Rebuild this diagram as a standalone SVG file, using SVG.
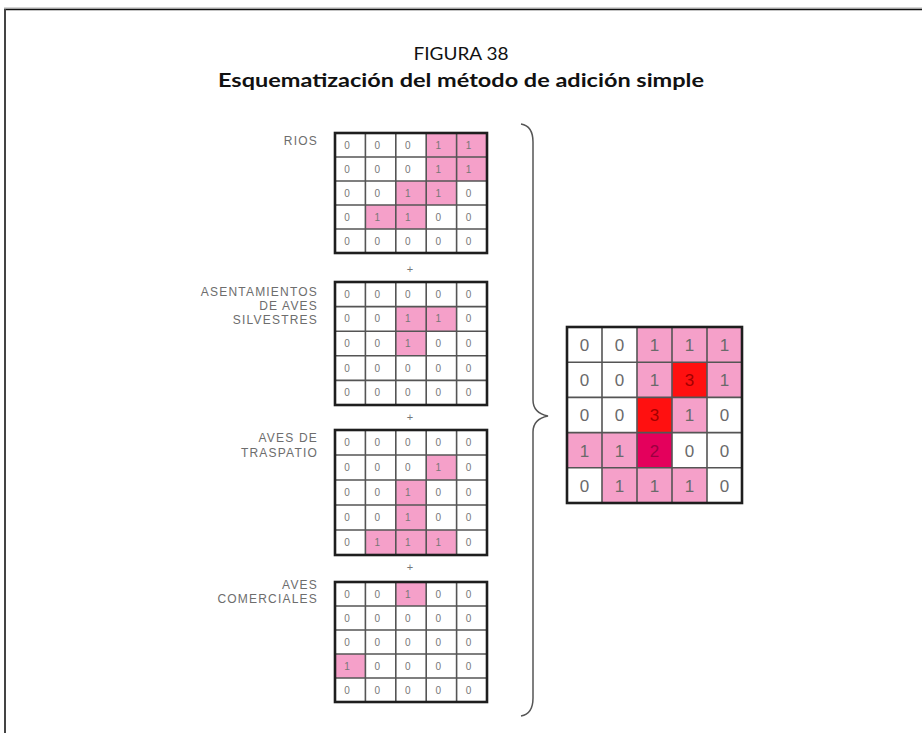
<svg xmlns="http://www.w3.org/2000/svg" width="922" height="733" viewBox="0 0 922 733">
<style>
.bg{fill:#fff}
.pk{fill:#f5a0c9}
.rd{fill:#ff1010}
.cr{fill:#e4005c}
.gl{fill:none;stroke:#555;stroke-width:1.6}
.bd{fill:none;stroke:#1e1e1e;stroke-width:2.6}
.sd{font-family:"Liberation Sans",Arial,sans-serif;font-size:10px;fill:#777;text-anchor:middle}
.bdg{font-family:"Liberation Sans",Arial,sans-serif;font-size:17px;fill:#6a6a6a;text-anchor:middle}
.lb{font-family:"Liberation Sans",Arial,sans-serif;font-size:12px;fill:#6d6d6d;text-anchor:end;letter-spacing:1.2px}
.pl{font-family:"Liberation Sans",Arial,sans-serif;font-size:11px;fill:#777;text-anchor:middle}
.t1{font-family:Lato,"Liberation Sans",sans-serif;font-size:17px;fill:#111;text-anchor:middle}
.t2{font-family:Lato,"Liberation Sans",sans-serif;font-size:18px;font-weight:bold;fill:#111;text-anchor:middle}
</style>
<rect class="bg" x="0" y="0" width="922" height="733"/>
<g id="frame">
<line x1="4" y1="8" x2="922" y2="8" stroke="#aaa" stroke-width="1"/>
<line x1="4" y1="9.5" x2="922" y2="9.5" stroke="#111" stroke-width="1.5"/>
<line x1="5" y1="9" x2="5" y2="733" stroke="#444" stroke-width="2"/>
</g>
<g id="title">
<text class="t1" x="461" y="60" textLength="95" lengthAdjust="spacingAndGlyphs">FIGURA 38</text>
<text class="t2" x="461" y="87" textLength="486" lengthAdjust="spacingAndGlyphs">Esquematización del método de adición simple</text>
</g>

<g id="grid-rios">
<text class="lb" x="318" y="145">RIOS</text>
<rect class="pk" x="426.2" y="133" width="60.8" height="48"/>
<rect class="pk" x="395.8" y="181" width="60.8" height="24"/>
<rect class="pk" x="365.4" y="205" width="60.8" height="24"/>
<path class="gl" d="M365.4 133V253M395.8 133V253M426.2 133V253M456.6 133V253M335 157H487M335 181H487M335 205H487M335 229H487"/>
<rect class="bd" x="335" y="133" width="152" height="120"/>
<text class="sd" x="347 377.4 407.8 438.2 468.6" y="148.5">00011</text>
<text class="sd" x="347 377.4 407.8 438.2 468.6" y="172.5">00011</text>
<text class="sd" x="347 377.4 407.8 438.2 468.6" y="196.5">00110</text>
<text class="sd" x="347 377.4 407.8 438.2 468.6" y="220.5">01100</text>
<text class="sd" x="347 377.4 407.8 438.2 468.6" y="244.5">00000</text>
</g>

<text class="pl" x="410" y="273">+</text>

<g id="grid-asentamientos">
<text class="lb" x="318" y="296">ASENTAMIENTOS</text>
<text class="lb" x="318" y="310">DE AVES</text>
<text class="lb" x="318" y="324">SILVESTRES</text>
<rect class="pk" x="395.8" y="306.6" width="60.8" height="24.6"/>
<rect class="pk" x="395.8" y="331.2" width="30.4" height="24.6"/>
<path class="gl" d="M365.4 282V405M395.8 282V405M426.2 282V405M456.6 282V405M335 306.6H487M335 331.2H487M335 355.8H487M335 380.4H487"/>
<rect class="bd" x="335" y="282" width="152" height="123"/>
<text class="sd" x="347 377.4 407.8 438.2 468.6" y="297.8">00000</text>
<text class="sd" x="347 377.4 407.8 438.2 468.6" y="322.4">00110</text>
<text class="sd" x="347 377.4 407.8 438.2 468.6" y="347">00100</text>
<text class="sd" x="347 377.4 407.8 438.2 468.6" y="371.6">00000</text>
<text class="sd" x="347 377.4 407.8 438.2 468.6" y="396.2">00000</text>
</g>

<text class="pl" x="410" y="421">+</text>

<g id="grid-traspatio">
<text class="lb" x="318" y="442">AVES DE</text>
<text class="lb" x="318" y="457">TRASPATIO</text>
<rect class="pk" x="426.2" y="455" width="30.4" height="25"/>
<rect class="pk" x="395.8" y="480" width="30.4" height="50"/>
<rect class="pk" x="365.4" y="530" width="91.2" height="25"/>
<path class="gl" d="M365.4 430V555M395.8 430V555M426.2 430V555M456.6 430V555M335 455H487M335 480H487M335 505H487M335 530H487"/>
<rect class="bd" x="335" y="430" width="152" height="125"/>
<text class="sd" x="347 377.4 407.8 438.2 468.6" y="446">00000</text>
<text class="sd" x="347 377.4 407.8 438.2 468.6" y="471">00010</text>
<text class="sd" x="347 377.4 407.8 438.2 468.6" y="496">00100</text>
<text class="sd" x="347 377.4 407.8 438.2 468.6" y="521">00100</text>
<text class="sd" x="347 377.4 407.8 438.2 468.6" y="546">01110</text>
</g>

<text class="pl" x="410" y="571">+</text>

<g id="grid-comerciales">
<text class="lb" x="318" y="589">AVES</text>
<text class="lb" x="318" y="603">COMERCIALES</text>
<rect class="pk" x="395.8" y="582" width="30.4" height="24"/>
<rect class="pk" x="335" y="654" width="30.4" height="24"/>
<path class="gl" d="M365.4 582V702M395.8 582V702M426.2 582V702M456.6 582V702M335 606H487M335 630H487M335 654H487M335 678H487"/>
<rect class="bd" x="335" y="582" width="152" height="120"/>
<text class="sd" x="347 377.4 407.8 438.2 468.6" y="597.5">00100</text>
<text class="sd" x="347 377.4 407.8 438.2 468.6" y="621.5">00000</text>
<text class="sd" x="347 377.4 407.8 438.2 468.6" y="645.5">00000</text>
<text class="sd" x="347 377.4 407.8 438.2 468.6" y="669.5">10000</text>
<text class="sd" x="347 377.4 407.8 438.2 468.6" y="693.5">00000</text>
</g>

<g id="connectors">
<path d="M521 124Q533 126 533 142V400Q533 413 548 416Q533 419 533 432V698Q533 714 521 716" fill="none" stroke="#555" stroke-width="1.5"/>
</g>

<g id="grid-result">
<rect class="pk" x="637" y="327" width="105" height="35.2"/>
<rect class="pk" x="637" y="362.2" width="35" height="35.2"/>
<rect class="rd" x="672" y="362.2" width="35" height="35.2"/>
<rect class="pk" x="707" y="362.2" width="35" height="35.2"/>
<rect class="rd" x="637" y="397.4" width="35" height="35.2"/>
<rect class="pk" x="672" y="397.4" width="35" height="35.2"/>
<rect class="pk" x="567" y="432.6" width="70" height="35.2"/>
<rect class="cr" x="637" y="432.6" width="35" height="35.2"/>
<rect class="pk" x="602" y="467.8" width="105" height="35.2"/>
<path class="gl" d="M602 327V503M637 327V503M672 327V503M707 327V503M567 362.2H742M567 397.4H742M567 432.6H742M567 467.8H742"/>
<rect class="bd" x="567" y="327" width="175" height="176"/>
<text class="bdg" x="584.5 619.5 654.5 689.5 724.5" y="351">00111</text>
<text class="bdg" x="584.5 619.5 654.5" y="386.2">001</text>
<text class="bdg" x="689.5" y="386.2" style="fill:#a30000">3</text>
<text class="bdg" x="724.5" y="386.2">1</text>
<text class="bdg" x="584.5 619.5" y="421.4">00</text>
<text class="bdg" x="654.5" y="421.4" style="fill:#a30000">3</text>
<text class="bdg" x="689.5 724.5" y="421.4">10</text>
<text class="bdg" x="584.5 619.5" y="456.6">11</text>
<text class="bdg" x="654.5" y="456.6" style="fill:#9a0040">2</text>
<text class="bdg" x="689.5 724.5" y="456.6">00</text>
<text class="bdg" x="584.5 619.5 654.5 689.5 724.5" y="491.8">01110</text>
</g>
</svg>
